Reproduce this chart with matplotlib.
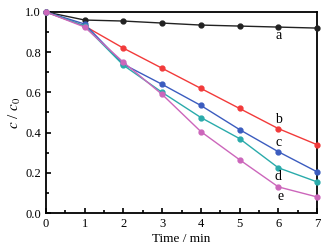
import numpy as np
import matplotlib
matplotlib.use("Agg")
import matplotlib.pyplot as plt

plt.rcParams['font.family'] = ['Liberation Serif', 'DejaVu Serif']
plt.rcParams['mathtext.fontset'] = 'stix'

# --- data ---
time_min = [0, 1, 2, 3, 4, 5, 6, 7]
series_a = [1.0, 0.96, 0.955, 0.945, 0.935, 0.93, 0.925, 0.92]
series_b = [1.0, 0.93, 0.82, 0.72, 0.62, 0.52, 0.42, 0.34]
series_c = [1.0, 0.94, 0.74, 0.64, 0.535, 0.415, 0.305, 0.205]
series_d = [1.0, 0.93, 0.735, 0.60, 0.475, 0.37, 0.225, 0.155]
series_e = [1.0, 0.925, 0.75, 0.59, 0.405, 0.265, 0.13, 0.08]
labels = ['a', 'b', 'c', 'd', 'e']
label_pos = [(6.0, 0.885), (6.0, 0.465), (6.0, 0.35), (6.0, 0.18), (6.07, 0.08)]
colors = ['#222222', '#f23a3a', '#3b5cbf', '#2aabab', '#cc66bb']

fig = plt.figure(figsize=(3.33, 2.49), dpi=100)
ax = fig.add_axes([46 / 333, 1 - 213 / 249, 271 / 333, 201 / 249])

for ys, col in zip([series_a, series_b, series_c, series_d, series_e], colors):
    ax.plot(time_min, ys, color=col, lw=1.0, marker='o', ms=3.5, clip_on=False, zorder=3)

for lab, (x, y) in zip(labels, label_pos):
    ax.text(x, y, lab, fontsize=10, ha='center', va='center')

ax.set_xlim(0, 7)
ax.set_ylim(0, 1.0)
ax.set_xticks(range(8))
ax.set_xticks(np.arange(0.5, 7, 1), minor=True)
ax.set_yticks([0, 0.2, 0.4, 0.6, 0.8, 1.0])
ax.set_yticks([0.1, 0.3, 0.5, 0.7, 0.9], minor=True)
ax.yaxis.set_major_formatter(matplotlib.ticker.FormatStrFormatter('%.1f'))
ax.tick_params(which='both', direction='in', top=False, right=False, labelsize=9, width=1.2)
ax.tick_params(which='major', length=3.5)
ax.tick_params(which='minor', length=2)
for sp in ax.spines.values():
    sp.set_linewidth(1.3)

ax.set_xlabel('Time / min', fontsize=9.5, labelpad=2)
ax.set_ylabel(r'$c$ / $c_0$', fontsize=11, labelpad=2)

fig.savefig('out.png', dpi=100)
